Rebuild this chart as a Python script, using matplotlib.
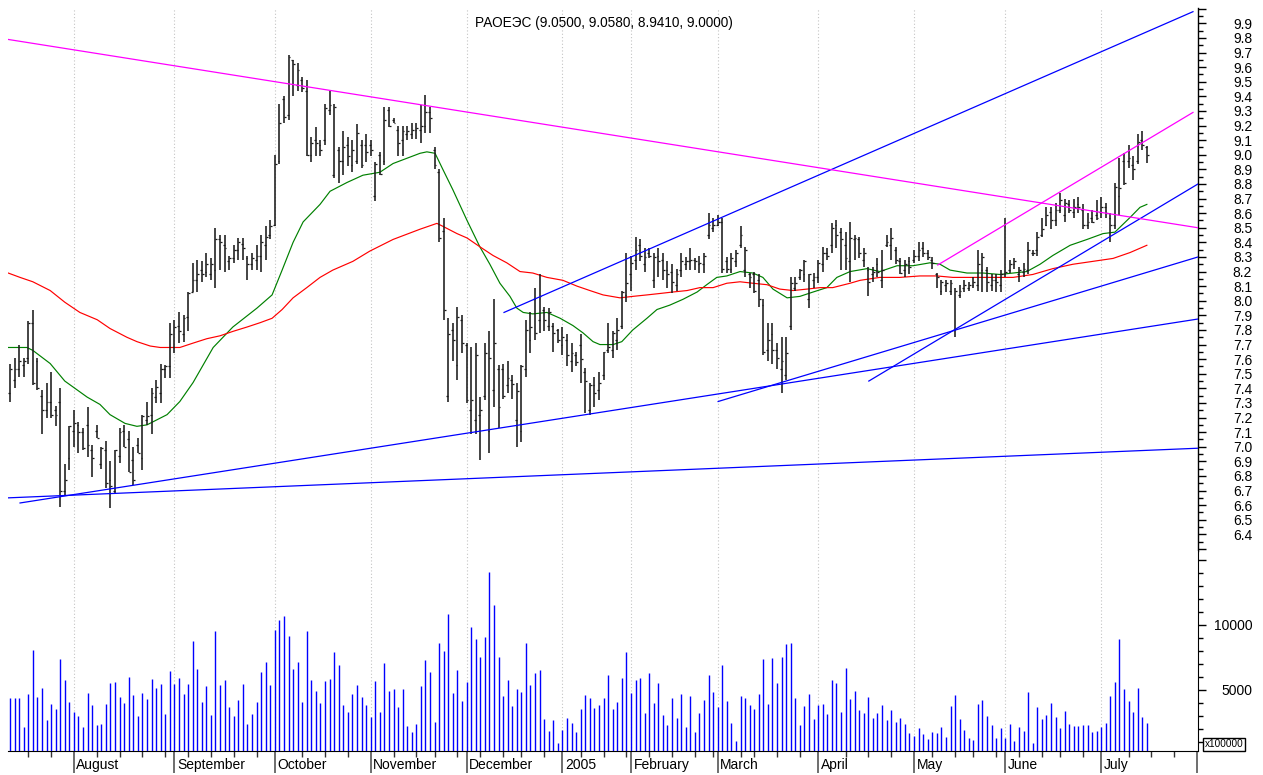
"""RAO UES daily bar chart with moving averages, trend lines and volume."""

import matplotlib
matplotlib.use("Agg")
import matplotlib.pyplot as plt
from matplotlib.ticker import FixedLocator, MultipleLocator, FuncFormatter

plt.rcParams['font.family'] = ['Liberation Sans', 'DejaVu Sans']

# ── Data ─────────────────────────────────────────────────────────────────────

TITLE = "РАОЕЭС (9.0500, 9.0580, 8.9410, 9.0000)"

OPEN = [
    7.37, 7.46, 7.53, 7.56, 7.61, 7.85, 7.59, 7.35, 7.25, 7.31,
    7.25, 7.31, 6.70, 6.92, 7.11, 7.15, 7.10, 7.15, 6.98, 7.11,
    6.88, 6.98, 6.77, 6.70, 6.94, 7.11, 7.05, 6.91, 7.01, 6.92,
    7.18, 7.22, 7.34, 7.37, 7.53, 7.55, 7.68, 7.83, 7.77, 7.89,
    8.06, 8.14, 8.21, 8.20, 8.18, 8.21, 8.42, 8.38, 8.27, 8.29,
    8.35, 8.39, 8.29, 8.25, 8.28, 8.31, 8.38, 8.45, 8.52, 8.96,
    9.38, 9.27, 9.65, 9.48, 9.51, 9.44, 9.00, 9.10, 9.07, 9.10,
    9.31, 8.86, 9.03, 8.96, 9.07, 8.93, 8.96, 9.07, 9.07, 9.07,
    8.72, 9.00, 8.96, 9.31, 9.24, 9.17, 9.10, 9.14, 9.14, 9.17,
    9.17, 9.20, 9.29, 9.03, 8.88, 8.48, 7.35, 7.80, 7.56, 7.87,
    7.70, 7.25, 7.18, 7.22, 7.35, 7.11, 7.39, 7.53, 7.53, 7.42,
    7.46, 7.18, 7.11, 7.53, 7.73, 8.01, 7.87, 7.94, 7.83, 7.83,
    7.80, 7.70, 7.73, 7.59, 7.63, 7.70, 7.51, 7.25, 7.42, 7.39,
    7.49, 7.66, 7.66, 7.73, 7.83, 8.04, 8.18, 8.28, 8.38, 8.25,
    8.33, 8.14, 8.31, 8.28, 8.21, 8.20, 8.11, 8.21, 8.25, 8.27,
    8.28, 8.25, 8.25, 8.45, 8.50, 8.52, 8.54, 8.27, 8.22, 8.27,
    8.38, 8.21, 8.18, 8.18, 8.14, 7.97, 7.66, 7.77, 7.66, 7.53,
    7.49, 7.83, 8.09, 8.16, 8.18, 8.01, 8.14, 8.16, 8.25, 8.33,
    8.38, 8.52, 8.47, 8.38, 8.27, 8.42, 8.42, 8.28, 8.21, 8.18,
    8.25, 8.14, 8.38, 8.38, 8.35, 8.27, 8.21, 8.27, 8.28, 8.31,
    8.36, 8.33, 8.28, 8.18, 8.07, 8.11, 8.07, 7.80, 8.04, 8.09,
    8.09, 8.11, 8.11, 8.21, 8.21, 8.11, 8.14, 8.11, 8.18, 8.21,
    8.25, 8.18, 8.20, 8.21, 8.33, 8.35, 8.45, 8.52, 8.61, 8.55,
    8.62, 8.59, 8.66, 8.61, 8.66, 8.62, 8.52, 8.57, 8.59, 8.61,
    8.64, 8.57, 8.52, 8.72, 8.96, 8.96, 8.93, 8.96, 9.10, 9.05,
]

HIGH = [
    7.57, 7.61, 7.70, 7.61, 7.86, 7.94, 7.61, 7.39, 7.44, 7.51,
    7.28, 7.40, 6.88, 7.14, 7.25, 7.17, 7.13, 7.27, 7.01, 7.15,
    7.00, 7.04, 6.90, 6.98, 7.13, 7.15, 7.11, 7.00, 7.06, 7.22,
    7.31, 7.40, 7.46, 7.57, 7.56, 7.85, 7.87, 7.92, 7.90, 8.06,
    8.26, 8.28, 8.27, 8.33, 8.29, 8.50, 8.45, 8.45, 8.31, 8.38,
    8.43, 8.43, 8.31, 8.33, 8.38, 8.45, 8.51, 8.55, 9.00, 9.35,
    9.40, 9.68, 9.65, 9.63, 9.53, 9.51, 9.12, 9.19, 9.10, 9.35,
    9.44, 9.35, 9.05, 9.16, 9.12, 9.10, 9.21, 9.10, 9.14, 9.10,
    8.95, 9.02, 9.33, 9.33, 9.25, 9.20, 9.20, 9.20, 9.22, 9.22,
    9.34, 9.41, 9.33, 9.05, 8.90, 8.57, 7.88, 7.85, 7.96, 7.90,
    7.71, 7.68, 7.71, 7.34, 7.71, 7.79, 8.01, 7.56, 7.57, 7.59,
    7.49, 7.44, 7.56, 7.87, 7.92, 8.09, 8.18, 7.96, 7.95, 7.85,
    7.81, 7.82, 7.77, 7.71, 7.65, 7.77, 7.54, 7.44, 7.48, 7.51,
    7.65, 7.85, 7.79, 7.88, 8.07, 8.33, 8.31, 8.44, 8.42, 8.36,
    8.36, 8.33, 8.36, 8.33, 8.27, 8.25, 8.22, 8.33, 8.30, 8.36,
    8.29, 8.31, 8.33, 8.60, 8.57, 8.59, 8.57, 8.30, 8.33, 8.35,
    8.51, 8.37, 8.19, 8.20, 8.18, 8.01, 7.85, 7.85, 7.71, 7.75,
    7.75, 8.16, 8.16, 8.22, 8.28, 8.18, 8.19, 8.28, 8.37, 8.36,
    8.53, 8.55, 8.50, 8.47, 8.54, 8.45, 8.44, 8.36, 8.23, 8.23,
    8.29, 8.35, 8.45, 8.50, 8.37, 8.29, 8.28, 8.30, 8.35, 8.40,
    8.40, 8.35, 8.30, 8.19, 8.14, 8.14, 8.14, 8.09, 8.11, 8.14,
    8.13, 8.16, 8.35, 8.33, 8.23, 8.18, 8.18, 8.21, 8.57, 8.28,
    8.29, 8.23, 8.26, 8.40, 8.35, 8.47, 8.57, 8.64, 8.64, 8.67,
    8.74, 8.70, 8.69, 8.70, 8.71, 8.66, 8.60, 8.62, 8.69, 8.71,
    8.67, 8.60, 8.81, 8.98, 9.01, 9.07, 8.99, 9.14, 9.16, 9.058,
]

LOW = [
    7.31, 7.40, 7.48, 7.48, 7.57, 7.42, 7.39, 7.09, 7.20, 7.20,
    7.14, 6.59, 6.66, 6.84, 7.00, 6.96, 6.98, 6.93, 6.79, 7.06,
    6.85, 6.72, 6.58, 6.68, 6.89, 7.00, 6.83, 6.74, 6.96, 6.84,
    7.15, 7.09, 7.30, 7.30, 7.47, 7.47, 7.64, 7.71, 7.72, 7.79,
    8.06, 8.06, 8.13, 8.16, 8.14, 8.09, 8.21, 8.20, 8.21, 8.26,
    8.28, 8.28, 8.14, 8.21, 8.21, 8.20, 8.28, 8.42, 8.51, 8.94,
    9.22, 9.24, 9.40, 9.44, 9.43, 8.99, 8.95, 8.99, 8.99, 9.07,
    9.27, 8.84, 8.81, 8.86, 8.92, 8.88, 8.94, 8.91, 8.95, 8.99,
    8.68, 8.86, 8.93, 9.19, 9.22, 8.99, 8.99, 9.10, 9.11, 9.11,
    9.08, 9.15, 9.15, 8.90, 8.40, 7.87, 7.31, 7.59, 7.46, 7.64,
    7.30, 7.09, 7.09, 6.91, 7.32, 6.96, 7.27, 7.13, 7.33, 7.37,
    7.33, 7.00, 7.03, 7.48, 7.64, 7.73, 7.78, 7.79, 7.79, 7.65,
    7.71, 7.63, 7.55, 7.51, 7.55, 7.44, 7.23, 7.22, 7.27, 7.32,
    7.46, 7.64, 7.61, 7.66, 7.81, 7.99, 8.07, 8.21, 8.27, 8.20,
    8.29, 8.09, 8.16, 8.14, 8.09, 8.05, 8.07, 8.16, 8.21, 8.21,
    8.21, 8.19, 8.19, 8.42, 8.47, 8.51, 8.19, 8.19, 8.19, 8.23,
    8.36, 8.16, 8.09, 8.05, 7.96, 7.63, 7.59, 7.57, 7.53, 7.37,
    7.46, 7.80, 8.07, 8.14, 8.13, 7.95, 8.09, 8.12, 8.20, 8.28,
    8.33, 8.36, 8.21, 8.21, 8.13, 8.28, 8.29, 8.23, 8.03, 8.13,
    8.16, 8.09, 8.37, 8.28, 8.25, 8.18, 8.16, 8.18, 8.26, 8.27,
    8.30, 8.28, 8.22, 8.09, 8.04, 8.06, 8.04, 7.75, 8.02, 8.06,
    8.07, 8.09, 8.07, 8.06, 8.06, 8.07, 8.06, 8.06, 8.16, 8.19,
    8.22, 8.13, 8.16, 8.18, 8.31, 8.31, 8.44, 8.51, 8.49, 8.51,
    8.60, 8.54, 8.60, 8.57, 8.60, 8.49, 8.49, 8.53, 8.55, 8.57,
    8.57, 8.40, 8.49, 8.59, 8.79, 8.91, 8.83, 8.94, 9.03, 8.941,
]

CLOSE = [
    7.53, 7.53, 7.59, 7.59, 7.85, 7.44, 7.40, 7.25, 7.31, 7.22,
    7.22, 6.70, 6.77, 7.14, 7.16, 7.10, 6.99, 7.01, 6.92, 7.06,
    6.99, 6.75, 6.73, 6.98, 7.10, 7.00, 6.83, 6.77, 6.96, 7.21,
    7.21, 7.37, 7.41, 7.53, 7.55, 7.77, 7.82, 7.79, 7.88, 8.05,
    8.14, 8.18, 8.18, 8.25, 8.25, 8.42, 8.40, 8.36, 8.29, 8.35,
    8.40, 8.36, 8.25, 8.29, 8.31, 8.40, 8.44, 8.51, 8.94, 9.22,
    9.26, 9.67, 9.62, 9.58, 9.46, 9.00, 9.08, 9.08, 9.03, 9.32,
    9.34, 9.33, 8.96, 9.05, 8.99, 9.03, 9.15, 8.93, 9.02, 9.03,
    8.94, 8.87, 9.24, 9.20, 9.22, 9.08, 9.16, 9.16, 9.17, 9.18,
    9.20, 9.29, 9.25, 8.93, 8.43, 7.94, 7.77, 7.73, 7.89, 7.71,
    7.32, 7.32, 7.63, 7.25, 7.64, 7.61, 7.71, 7.27, 7.35, 7.47,
    7.43, 7.38, 7.55, 7.80, 7.82, 7.78, 8.03, 7.87, 7.92, 7.78,
    7.73, 7.75, 7.63, 7.64, 7.58, 7.60, 7.45, 7.42, 7.37, 7.44,
    7.65, 7.68, 7.78, 7.80, 8.06, 8.12, 8.26, 8.35, 8.31, 8.30,
    8.31, 8.30, 8.27, 8.21, 8.18, 8.13, 8.18, 8.27, 8.27, 8.28,
    8.27, 8.26, 8.31, 8.52, 8.52, 8.54, 8.22, 8.22, 8.29, 8.33,
    8.45, 8.35, 8.16, 8.07, 8.01, 7.65, 7.73, 7.66, 7.61, 7.59,
    7.64, 8.12, 8.12, 8.21, 8.27, 8.18, 8.16, 8.26, 8.33, 8.31,
    8.50, 8.45, 8.42, 8.29, 8.43, 8.43, 8.33, 8.33, 8.13, 8.20,
    8.20, 8.21, 8.40, 8.43, 8.28, 8.19, 8.25, 8.23, 8.31, 8.35,
    8.33, 8.30, 8.26, 8.16, 8.13, 8.12, 8.12, 8.07, 8.07, 8.11,
    8.11, 8.13, 8.25, 8.30, 8.13, 8.14, 8.13, 8.18, 8.20, 8.25,
    8.27, 8.21, 8.22, 8.35, 8.33, 8.44, 8.49, 8.59, 8.55, 8.62,
    8.69, 8.67, 8.62, 8.64, 8.64, 8.52, 8.54, 8.54, 8.57, 8.64,
    8.60, 8.52, 8.78, 8.77, 8.81, 8.98, 8.90, 9.09, 9.07, 9.00,
]

# volume in units of 100000 shares
VOLUME = [
    4360, 4360, 4360, 2180, 4690, 8075, 4435, 5125, 2690, 3920,
    3510, 7380, 5770, 4100, 3280, 3000, 2180, 4740, 3845, 2330,
    2410, 3920, 5510, 5615, 4435, 4000, 6025, 4615, 3000, 4740,
    4330, 5870, 5125, 5435, 3180, 6435, 5460, 5945, 4690, 5460,
    8740, 6615, 4100, 5280, 3100, 9560, 5385, 5770, 3690, 3000,
    4255, 5435, 2410, 3180, 4100, 6360, 7130, 5385, 9640, 10405,
    10665, 9150, 6615, 7130, 4100, 9560, 5770, 4920, 4000, 5690,
    5870, 7895, 6900, 3845, 3330, 4690, 5360, 4435, 3845, 2945,
    5690, 3280, 7050, 4920, 5100, 3690, 5100, 2255, 1745, 2410,
    5305, 7305, 6360, 2515, 8640, 8000, 10845, 4740, 6535, 4180,
    5615, 9820, 8895, 7510, 9050, 14100, 11510, 7510, 4535, 5770,
    3770, 5100, 4845, 8640, 5385, 6280, 6535, 2745, 1820, 2665,
    900, 1900, 2820, 2485, 1745, 3510, 4590, 4360, 3590, 3820,
    4360, 6130, 3510, 4100, 5920, 7895, 4740, 5770, 5945, 3255,
    6280, 4000, 5510, 3075, 2330, 4360, 2820, 4665, 2155, 4510,
    1745, 3255, 4255, 6130, 4845, 3715, 6900, 4180, 2485, 1075,
    4510, 4360, 3845, 3510, 4665, 7380, 3920, 7460, 5510, 7535,
    8535, 8640, 4360, 2330, 3770, 4665, 2745, 3845, 3920, 3180,
    5770, 5510, 3330, 6715, 4280, 4920, 3435, 3255, 4435, 2845,
    3255, 3845, 2665, 3435, 2515, 2845, 2410, 1665, 1485, 2075,
    1590, 1230, 1745, 1665, 2155, 1400, 3770, 4590, 2745, 1900,
    1310, 1155, 3920, 4255, 3000, 2330, 1310, 2075, 1310, 2410,
    1075, 2155, 1820, 4845, 900, 3665, 2745, 3075, 4000, 2920,
    2075, 3410, 2410, 2255, 2255, 2330, 2330, 1745, 1820, 2155,
    2485, 4510, 5585, 8895, 5100, 4180, 3330, 5175, 2920, 2485,
]

# moving averages (bar index, price)
MA_SHORT_X = [
    -0.4, 3.7, 5.0, 8.8, 12.0, 16.9, 19.7, 21.9, 25.2, 27.8,
    30.0, 34.4, 37.2, 40.1, 44.5, 48.8, 54.1, 57.4, 59.6, 62.0,
    64.2, 67.9, 70.1, 73.8, 77.3, 81.0, 83.9, 89.8, 91.3, 93.1,
    94.8, 97.0, 100.1, 102.9, 105.1, 107.3, 109.5, 111.0, 112.4, 114.5,
    117.6, 120.5, 123.3, 125.5, 127.7, 129.2, 132.1, 134.0, 136.4, 139.5,
    141.7, 144.5, 147.4, 150.5, 152.6, 154.8, 157.0, 159.9, 162.7, 164.9,
    167.1, 170.2, 173.0, 175.9, 178.9, 181.1, 184.0, 187.7, 190.5, 194.3,
    197.8, 201.5, 203.7, 205.9, 209.6, 213.1, 216.8, 219.7, 222.7, 225.6,
    228.4, 232.2, 235.9, 239.4, 242.0, 245.3, 247.5, 249.0,
]
MA_SHORT_Y = [
    7.68, 7.68, 7.66, 7.57, 7.45, 7.34, 7.29, 7.22, 7.16, 7.14,
    7.15, 7.22, 7.31, 7.44, 7.68, 7.82, 7.95, 8.04, 8.21, 8.40,
    8.54, 8.66, 8.75, 8.81, 8.86, 8.88, 8.94, 9.01, 9.02, 9.01,
    8.90, 8.76, 8.55, 8.37, 8.25, 8.12, 8.03, 7.95, 7.92, 7.91,
    7.92, 7.88, 7.83, 7.78, 7.72, 7.70, 7.70, 7.72, 7.80, 7.88,
    7.94, 7.97, 8.01, 8.06, 8.11, 8.16, 8.17, 8.20, 8.19, 8.16,
    8.08, 8.02, 8.03, 8.06, 8.09, 8.16, 8.20, 8.22, 8.20, 8.24,
    8.24, 8.26, 8.25, 8.21, 8.19, 8.19, 8.18, 8.19, 8.20, 8.25,
    8.31, 8.38, 8.42, 8.46, 8.47, 8.57, 8.64, 8.66,
]
MA_LONG_X = [
    -0.4, 2.2, 5.0, 8.8, 12.0, 15.3, 19.1, 21.9, 25.6, 27.8,
    30.7, 32.9, 37.2, 40.1, 43.1, 46.0, 48.8, 51.9, 54.8, 57.4,
    59.6, 62.0, 65.0, 67.9, 70.7, 75.1, 78.8, 83.9, 89.8, 93.5,
    94.8, 97.9, 100.1, 102.9, 105.8, 108.8, 111.7, 114.5, 117.6, 121.1,
    124.2, 127.0, 129.9, 133.6, 136.4, 139.5, 142.4, 145.2, 148.3, 151.1,
    154.0, 157.0, 159.9, 162.7, 165.8, 168.6, 171.5, 174.6, 177.4, 180.2,
    184.0, 186.2, 190.5, 194.9, 199.3, 203.0, 206.5, 210.9, 215.3, 219.7,
    224.0, 228.4, 232.8, 237.2, 241.6, 245.3, 249.0,
]
MA_LONG_Y = [
    8.19, 8.16, 8.13, 8.07, 7.99, 7.92, 7.87, 7.81, 7.75, 7.72,
    7.69, 7.68, 7.68, 7.71, 7.74, 7.76, 7.79, 7.82, 7.85, 7.88,
    7.94, 8.02, 8.09, 8.16, 8.21, 8.27, 8.34, 8.42, 8.49, 8.53,
    8.51, 8.46, 8.43, 8.37, 8.31, 8.26, 8.20, 8.19, 8.16, 8.14,
    8.10, 8.07, 8.04, 8.02, 8.03, 8.04, 8.05, 8.06, 8.07, 8.09,
    8.09, 8.12, 8.13, 8.12, 8.11, 8.08, 8.07, 8.08, 8.09, 8.09,
    8.12, 8.14, 8.16, 8.16, 8.17, 8.17, 8.16, 8.16, 8.16, 8.16,
    8.18, 8.22, 8.25, 8.27, 8.29, 8.33, 8.38,
]

# trend lines: (start bar, start price, end bar, end price)
BLUE_LINES = [
    (108.2, 7.92, 259.1, 9.98),
    (-0.44, 6.65, 260.2, 6.99),
    (2.2, 6.615, 260.2, 7.875),
    (155.1, 7.31, 260.2, 8.30),
    (188.1, 7.45, 260.2, 8.80),
]
MAGENTA_LINES = [
    (-0.44, 9.79, 260.2, 8.50),
    (203.2, 8.245, 259.1, 9.29),
]

MONTH_START = [14, 36, 58, 79, 100, 121, 136, 155, 177, 198, 218, 239, 260]
MONTH_LABELS = ["August", "September", "October", "November", "December",
                "2005", "February", "March", "April", "May", "June", "July",
                "August"]
WEEK_TICKS = [4, 9, 19, 24, 29, 34, 39, 44, 49, 54, 64, 69, 74, 84, 89,
              93, 98, 103, 108, 112, 117, 125, 130, 135, 140, 145, 150, 154,
              160, 163, 168, 173, 183, 188, 193, 202, 207, 211, 216, 221,
              226, 230, 235, 245, 250, 255]

# ── Layout ───────────────────────────────────────────────────────────────────

W, H = 1263, 775
fig = plt.figure(figsize=(W / 100, H / 100), dpi=100)


def px_axes(left, top, right, bottom):
    return fig.add_axes([left / W, 1 - bottom / H, (right - left) / W, (bottom - top) / H])


ax = px_axes(8, 8, 1198, 551)
axv = px_axes(8, 551, 1198, 751)

XMIN, XMAX = -0.44, 260.2
GRID_KW = dict(color="#c4c4c4", lw=0.8, ls=(0, (1, 2)), zorder=0)

# ── Price panel ──────────────────────────────────────────────────────────────

idx = list(range(len(CLOSE)))
ax.vlines(idx, LOW, HIGH, color="#1a1a1a", lw=1.15, zorder=3)
ax.hlines(OPEN, [i - 0.4 for i in idx], idx, color="#1a1a1a", lw=0.9, zorder=3)
ax.hlines(CLOSE, idx, [i + 0.4 for i in idx], color="#1a1a1a", lw=0.9, zorder=3)

ax.plot(MA_SHORT_X, MA_SHORT_Y, color="#008000", lw=0.85, zorder=2)
ax.plot(MA_LONG_X, MA_LONG_Y, color="#ff0000", lw=0.85, zorder=2)

for x0, y0, x1, y1 in BLUE_LINES:
    ax.plot([x0, x1], [y0, y1], color="#0000ff", lw=0.9, zorder=4)
for x0, y0, x1, y1 in MAGENTA_LINES:
    ax.plot([x0, x1], [y0, y1], color="#ff00ff", lw=0.9, zorder=4)

for m in MONTH_START[:-1]:
    ax.axvline(m, **GRID_KW)

ax.set_xlim(XMIN, XMAX)
ax.set_ylim(10.06 - 551 / 146, 10.06 - 8 / 146)
for side in ("left", "top", "bottom"):
    ax.spines[side].set_visible(False)
ax.spines["right"].set_linewidth(1.0)
ax.tick_params(axis="x", bottom=False, labelbottom=False)
ax.yaxis.tick_right()
ax.yaxis.set_major_locator(MultipleLocator(0.1))
ax.yaxis.set_minor_locator(MultipleLocator(0.05))
ax.yaxis.set_major_formatter(FuncFormatter(
    lambda v, _: f"{v:.1f}" if 6.35 < v < 9.95 else ""))
ax.tick_params(axis="y", which="major", length=6, width=1, pad=33, labelsize=10)
ax.tick_params(axis="y", which="minor", length=3.5, width=1)
for lbl in ax.get_yticklabels():
    lbl.set_horizontalalignment("right")

fig.text(604 / W, 1 - 23 / H, TITLE, ha="center", va="center", fontsize=9.8)

# ── Volume panel ─────────────────────────────────────────────────────────────

VMIN, VMAX = 308, 15690
axv.vlines(idx, VMIN, VOLUME, color="#0000ff", lw=1.0, zorder=3)
for m in MONTH_START[:-1]:
    axv.axvline(m, **GRID_KW)

axv.set_xlim(XMIN, XMAX)
axv.set_ylim(VMIN, VMAX)
for side in ("left", "top"):
    axv.spines[side].set_visible(False)
axv.yaxis.tick_right()
axv.yaxis.set_major_locator(MultipleLocator(5000))
axv.yaxis.set_minor_locator(MultipleLocator(1000))
axv.yaxis.set_major_formatter(FuncFormatter(
    lambda v, _: f"{v:.0f}" if 4000 < v < 11000 else ""))
axv.tick_params(axis="y", which="major", length=6, width=1, pad=33, labelsize=10)
axv.tick_params(axis="y", which="minor", length=3.5, width=1)
for lbl in axv.get_yticklabels():
    lbl.set_horizontalalignment("right")

axv.xaxis.set_major_locator(FixedLocator(MONTH_START))
axv.xaxis.set_minor_locator(FixedLocator(WEEK_TICKS))
axv.tick_params(axis="x", which="major", length=16, width=1.2, color="#555555",
                labelbottom=False)
axv.tick_params(axis="x", which="minor", length=4.5, width=1, color="#333333")

for m, label in zip(MONTH_START, MONTH_LABELS):
    if m < XMAX - 1:
        axv.annotate(label, xy=(m, 0), xycoords=("data", "axes fraction"),
                     xytext=(1.8, -5), textcoords="offset points",
                     ha="left", va="top", fontsize=10)

fig.text(1224 / W, 1 - 744 / H, "x100000", ha="center", va="center", fontsize=7.2,
         bbox=dict(boxstyle="square,pad=0.15", fc="white", ec="black", lw=1))

fig.savefig("out.png", dpi=100)
